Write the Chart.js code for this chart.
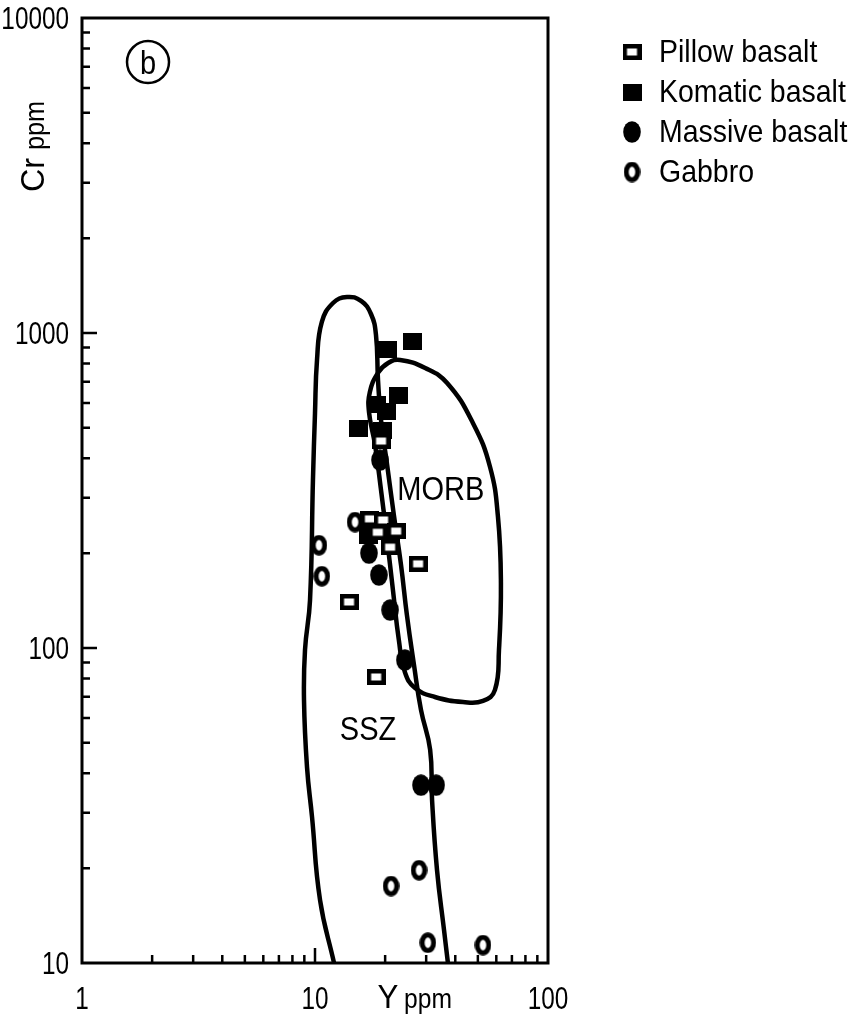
<!DOCTYPE html>
<html>
<head>
<meta charset="utf-8">
<script src="https://cdn.jsdelivr.net/npm/chart.js@4.4.1/dist/chart.umd.min.js"></script>
<style>
html,body{margin:0;padding:0;background:#fff;}
#wrap{width:853px;height:1020px;position:relative;}
</style>
</head>
<body>
<div id="wrap"><canvas id="c" width="853" height="1020"></canvas></div>
<script>
// ---- tick labels ----
const xTicks = [1, 10, 100];
const yTicks = [10, 100, 1000, 10000];
const minorMultipliers = [2, 3, 4, 5, 6, 7, 8, 9];

// ---- series (Y ppm, Cr ppm) ----
const seriesNames = ['Pillow basalt', 'Komatic basalt', 'Massive basalt', 'Gabbro'];
const pillowY  = [14.0, 18.3, 27.7, 17.2, 19.6, 22.3, 21.0, 18.6, 19.2];
const pillowCr = [140, 80.9, 185, 257, 255, 235, 209, 233, 454];
const komaticY  = [26.3, 20.4, 22.9, 18.3, 20.2, 15.3, 19.4, 17.05];
const komaticCr = [943, 889, 631, 595, 565, 499, 492, 227];
const massiveY  = [19.0, 17.05, 18.8, 21.0, 24.3, 28.5, 33.1];
const massiveCr = [395, 200, 170.5, 132, 91.6, 36.7, 36.7];
const gabbroY  = [10.4, 10.7, 14.85, 21.2, 27.95, 30.5, 52.6];
const gabbroCr = [212, 169, 251, 17.55, 19.7, 11.6, 11.4];

// ---- field boundaries (Y ppm, Cr ppm) ----
const sszY  = [12.07, 10.51, 9.71, 9.24, 8.97, 9.06, 9.52, 9.80, 10.0, 10.2, 10.7, 11.95, 13.72, 15.76, 17.39, 18.27, 18.64, 19.20, 20.4, 21.8, 23.4, 24.8, 26.6, 28.5, 31.2, 31.8, 33.4, 35.8, 37.2];
const sszCr = [10, 15.85, 29.1, 41.9, 68.4, 98.6, 142, 341.5, 557, 820, 1084, 1245, 1301, 1264, 1149, 985, 709, 529, 381, 264.4, 183.4, 127.3, 88.3, 63.6, 47.5, 32.9, 19.7, 12.7, 10];
const morbY  = [21.6, 20.4, 19.2, 18.1, 17.05, 17.2, 18.6, 20.6, 23.2, 29.7, 36.9, 47.6, 56.4, 61.0, 62.8, 61.6, 59.2, 52.6, 43.2, 32.7, 26.9, 24.3, 22.9, 21.6];
const morbCr = [152.8, 220.3, 317.4, 441, 561, 650, 746, 803, 821, 774, 694, 518, 375.5, 260.5, 160.8, 98.6, 73.6, 67.9, 67.4, 69.9, 74.6, 83.9, 106, 152.8];

// ---- text labels ----
const fieldLabels = [
  {text: 'SSZ', x: 16.9, y: 55.7},
  {text: 'MORB', x: 34.7, y: 322}
];
const panelLabel = {text: 'b', x: 1.92, y: 7244};

const pts = (xs, ys) => xs.map((x, i) => ({x: x, y: ys[i]}));

function mk(w, h, draw) {
  const c = document.createElement('canvas');
  c.width = w; c.height = h;
  const g = c.getContext('2d');
  draw(g, w, h);
  return c;
}
const pillowImg = mk(19, 16, (g) => {
  g.fillStyle = '#000'; g.fillRect(0, 0, 19, 16);
  g.fillStyle = '#fff'; g.fillRect(4.5, 4.5, 10, 7);
});
const komaticImg = mk(19, 17, (g) => { g.fillStyle = '#000'; g.fillRect(0, 0, 19, 17); });
const massiveImg = mk(18, 22, (g) => {
  g.fillStyle = '#000'; g.beginPath(); g.ellipse(9, 11, 8.8, 10.8, 0, 0, Math.PI * 2); g.fill();
});
const gabbroImg = mk(17, 21, (g) => {
  g.fillStyle = '#fff'; g.strokeStyle = '#000'; g.lineWidth = 5;
  g.beginPath(); g.ellipse(8.5, 10.5, 5.8, 7.8, 0, 0, Math.PI * 2); g.fill(); g.stroke();
});
const markerImgs = [pillowImg, komaticImg, massiveImg, gabbroImg];

const FONT = '"Liberation Sans", Arial, sans-serif';

// condensed-looking text (horizontal squeeze)
function condText(ctx, text, x, y, size, sx, align) {
  ctx.save();
  ctx.translate(x, y);
  ctx.scale(sx, 1);
  ctx.font = size + 'px ' + FONT;
  ctx.textAlign = align;
  ctx.textBaseline = 'alphabetic';
  ctx.fillText(text, 0, 0);
  ctx.restore();
}

const decorPlugin = {
  id: 'decor',
  afterDatasetsDraw(chart) {
    const ctx = chart.ctx, a = chart.chartArea;
    const xs = chart.scales.x, ys = chart.scales.y;
    ctx.save();
    ctx.strokeStyle = '#000';
    ctx.lineWidth = 3;
    ctx.strokeRect(a.left, a.top, a.right - a.left, a.bottom - a.top);
    ctx.lineWidth = 2.5;
    ctx.beginPath();
    for (let d = 0; d < xTicks.length; d++) {
      const base = xTicks[d];
      const px = xs.getPixelForValue(base);
      if (d > 0 && d < xTicks.length - 1) { ctx.moveTo(px, a.bottom); ctx.lineTo(px, a.bottom - 15); }
      if (d < xTicks.length - 1) {
        minorMultipliers.forEach(m => {
          const p = xs.getPixelForValue(base * m);
          ctx.moveTo(p, a.bottom); ctx.lineTo(p, a.bottom - 8);
        });
      }
    }
    for (let d = 0; d < yTicks.length; d++) {
      const base = yTicks[d];
      const py = ys.getPixelForValue(base);
      if (d > 0 && d < yTicks.length - 1) { ctx.moveTo(a.left, py); ctx.lineTo(a.left + 15, py); }
      if (d < yTicks.length - 1) {
        minorMultipliers.forEach(m => {
          const p = ys.getPixelForValue(base * m);
          ctx.moveTo(a.left, p); ctx.lineTo(a.left + 8, p);
        });
      }
    }
    ctx.stroke();
    ctx.restore();
  },
  afterDraw(chart) {
    const ctx = chart.ctx, a = chart.chartArea;
    const xs = chart.scales.x, ys = chart.scales.y;
    ctx.save();
    ctx.fillStyle = '#000';
    ctx.strokeStyle = '#000';
    // tick labels
    xTicks.forEach(v => condText(ctx, String(v), xs.getPixelForValue(v), a.bottom + 46, 32, 0.76, 'center'));
    yTicks.forEach(v => condText(ctx, String(v), a.left - 13, ys.getPixelForValue(v) + 11, 32, 0.76, 'right'));
    // field labels
    fieldLabels.forEach(l => {
      condText(ctx, l.text, xs.getPixelForValue(l.x), ys.getPixelForValue(l.y) + 12, 33, 0.88, 'center');
    });
    // panel label
    const bx = xs.getPixelForValue(panelLabel.x), by = ys.getPixelForValue(panelLabel.y);
    ctx.lineWidth = 2.5;
    ctx.beginPath(); ctx.arc(bx, by, 21, 0, Math.PI * 2); ctx.stroke();
    condText(ctx, panelLabel.text, bx, by + 12, 33, 0.88, 'center');
    // axis titles
    condText(ctx, 'Y', 388, 1008, 34, 0.92, 'center');
    condText(ctx, 'ppm', 404, 1008, 28, 0.88, 'left');
    ctx.save();
    ctx.translate(44, 192);
    ctx.rotate(-Math.PI / 2);
    condText(ctx, 'Cr', 0, 0, 34, 0.95, 'left');
    condText(ctx, 'ppm', 42, 0, 28, 0.9, 'left');
    ctx.restore();
    // legend
    const rowY = [51, 91, 131, 171];
    seriesNames.forEach((name, i) => {
      const img = markerImgs[i];
      ctx.drawImage(img, 632 - img.width / 2, rowY[i] + 1 - img.height / 2);
      condText(ctx, name, 659, rowY[i] + 11, 32, 0.89, 'left');
    });
    ctx.restore();
  }
};

const pointDs = (i, xs, ys) => ({
  label: seriesNames[i],
  data: pts(xs, ys),
  showLine: false,
  pointStyle: markerImgs[i],
  pointRadius: 10,
  pointHoverRadius: 10,
  order: 1
});
const lineDs = (label, xs, ys) => ({
  label: label,
  data: pts(xs, ys),
  showLine: true,
  pointRadius: 0,
  borderColor: '#000',
  borderWidth: 4.5,
  tension: 0.45,
  fill: false,
  order: 5
});

const noPad = (s) => { s.paddingTop = 0; s.paddingBottom = 0; s.paddingLeft = 0; s.paddingRight = 0; };

new Chart(document.getElementById('c'), {
  type: 'scatter',
  data: {
    datasets: [
      pointDs(0, pillowY, pillowCr),
      pointDs(1, komaticY, komaticCr),
      pointDs(2, massiveY, massiveCr),
      pointDs(3, gabbroY, gabbroCr),
      lineDs('SSZ', sszY, sszCr),
      lineDs('MORB', morbY, morbCr)
    ]
  },
  options: {
    responsive: false,
    devicePixelRatio: 1,
    animation: false,
    events: [],
    layout: {padding: {top: 18, right: 305, left: 0, bottom: 0}},
    plugins: {legend: {display: false}, tooltip: {enabled: false}},
    scales: {
      x: {
        type: 'logarithmic',
        min: 1, max: 100,
        afterBuildTicks: (s) => { s.ticks = xTicks.map(v => ({value: v})); },
        afterFit: (s) => { s.height = 57; noPad(s); },
        grid: {display: false, drawTicks: false},
        border: {display: false},
        ticks: {display: false, autoSkip: false, maxRotation: 0}
      },
      y: {
        type: 'logarithmic',
        min: 10, max: 10000,
        afterBuildTicks: (s) => { s.ticks = yTicks.map(v => ({value: v})); },
        afterFit: (s) => { s.width = 82; noPad(s); },
        grid: {display: false, drawTicks: false},
        border: {display: false},
        ticks: {display: false, autoSkip: false}
      }
    }
  },
  plugins: [decorPlugin]
});
</script>
</body>
</html>
